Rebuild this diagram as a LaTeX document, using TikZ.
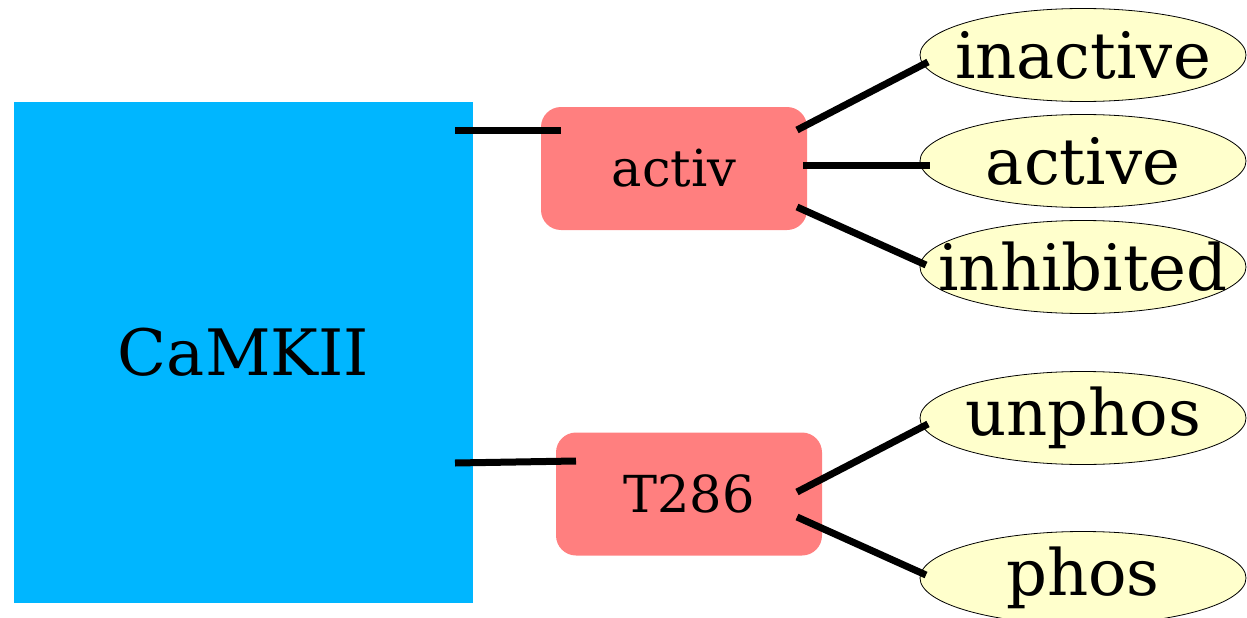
\documentclass[tikz,border=0pt]{standalone}
\usepackage{fontspec}
\setmainfont{DejaVu Serif}
\usetikzlibrary{shapes.geometric}
\definecolor{camblue}{RGB}{0,182,255}
\definecolor{portred}{RGB}{255,127,127}
\definecolor{statey}{RGB}{255,255,204}
\newcommand{\stlabel}[1]{\makebox[0pt]{#1}}
\tikzset{
  compound/.style={rectangle, fill=camblue, minimum width=459, minimum height=501, inner sep=0pt, font=\fontsize{64}{70}\selectfont},
  port/.style={rectangle, rounded corners=20, fill=portred, minimum width=266, minimum height=123, inner sep=0pt, font=\fontsize{51}{56}\selectfont},
  state/.style={ellipse, draw, line width=0.8, fill=statey, minimum width=326, minimum height=93, inner sep=0pt, font=\fontsize{64}{70}\selectfont},
  link/.style={line width=7}
}
\begin{document}
\begin{tikzpicture}[x=1pt, y=-1pt]
  \useasboundingbox (0,0) rectangle (1247,618);
  \node[compound] (camkii) at (243.5,352.5) {CaMKII};
  \node[port] (activ) at (674,168.5) {activ};
  \node[port] (t286) at (689,494) {T286};
  \node[state] (inactive) at (1083,55) {\stlabel{inactive}};
  \node[state] (active) at (1083,161) {\stlabel{active}};
  \node[state] (inhibited) at (1083,267) {\stlabel{inhibited}};
  \node[state] (unphos) at (1083,418) {\stlabel{unphos}};
  \node[state] (phos) at (1083,578) {\stlabel{phos}};
  % connector ends
  \coordinate (c1) at (455,130);
  \coordinate (c2) at (455,463);
  \coordinate (p1) at (561,130);
  \coordinate (p2) at (576,461);
  \coordinate (a1) at (797,130);
  \coordinate (a2) at (803,165);
  \coordinate (a3) at (797,207);
  \coordinate (t1) at (797,492);
  \coordinate (t2) at (797,517);
  \coordinate (s1) at (928,62);
  \coordinate (s2) at (930,165);
  \coordinate (s3) at (926,265);
  \coordinate (s4) at (928,424);
  \coordinate (s5) at (926,575);
  \foreach \src/\dst in {c1/p1, c2/p2, a1/s1, a2/s2, a3/s3, t1/s4, t2/s5}
    \draw[link] (\src) -- (\dst);
\end{tikzpicture}
\end{document}
